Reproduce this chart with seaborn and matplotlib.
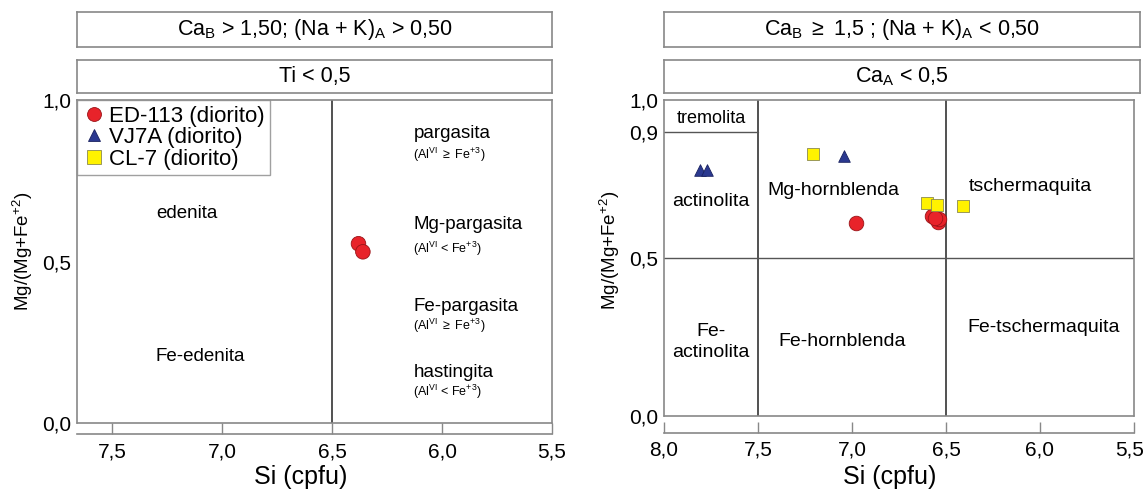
import matplotlib
matplotlib.use("Agg")
import matplotlib.pyplot as plt
import matplotlib.transforms as mtransforms
from matplotlib.lines import Line2D
import seaborn as sns
import pandas as pd

# amostras
amostras = ["ED-113 (diorito)", "VJ7A (diorito)", "CL-7 (diorito)"]
cores = {"ED-113 (diorito)": "#e8232a", "VJ7A (diorito)": "#2b3990", "CL-7 (diorito)": "#fff200"}
bordas = {"ED-113 (diorito)": "#9a1418", "VJ7A (diorito)": "#1a2260", "CL-7 (diorito)": "#8a8a50"}
marcadores = {"ED-113 (diorito)": "o", "VJ7A (diorito)": "^", "CL-7 (diorito)": "s"}

# diagrama 1 - pargasita / edenita
si_1 = [6.38, 6.36]
mg_1 = [0.555, 0.53]
am_1 = ["ED-113 (diorito)", "ED-113 (diorito)"]

# diagrama 2 - tremolita / hornblenda / tschermaquita
si_ed = [6.98, 6.575, 6.545, 6.535, 6.56]
mg_ed = [0.611, 0.633, 0.614, 0.623, 0.627]
si_vj = [7.81, 7.77, 7.045]
mg_vj = [0.778, 0.778, 0.824]
si_cl = [7.21, 6.60, 6.55, 6.41]
mg_cl = [0.830, 0.673, 0.667, 0.664]

ticks_x1 = [7.5, 7.0, 6.5, 6.0, 5.5]
ticks_x2 = [8.0, 7.5, 7.0, 6.5, 6.0, 5.5]
ticks_y1 = [0.0, 0.5, 1.0]
ticks_y2 = [0.0, 0.5, 0.9, 1.0]

limite_si_1 = 6.5
limites_si_2 = [7.5, 6.5]
limite_mg = 0.5
limite_tremolita = 0.9

df1 = pd.DataFrame({"Si": si_1, "Mg": mg_1, "amostra": am_1})
df2 = pd.DataFrame({
    "Si": si_ed + si_vj + si_cl,
    "Mg": mg_ed + mg_vj + mg_cl,
    "amostra": ["ED-113 (diorito)"] * len(si_ed) + ["VJ7A (diorito)"] * len(si_vj) + ["CL-7 (diorito)"] * len(si_cl),
})

sns.set_style("white")
plt.rcParams["font.family"] = ["Liberation Sans", "DejaVu Sans"]
plt.rcParams["mathtext.fontset"] = "custom"
plt.rcParams["mathtext.rm"] = "Liberation Sans"
plt.rcParams["mathtext.it"] = "Liberation Sans"
for k in ["text.color", "axes.labelcolor", "xtick.color", "ytick.color"]:
    plt.rcParams[k] = "black"

W, H = 1148, 490
fig = plt.figure(figsize=(W / 100, H / 100), dpi=100)

def px_axes(x0, y0, x1, y1):
    return fig.add_axes([x0 / W, 1 - y1 / H, (x1 - x0) / W, (y1 - y0) / H])

def caixa(x0, y0, x1, y1, texto):
    a = px_axes(x0, y0, x1, y1)
    a.set_xticks([])
    a.set_yticks([])
    for s in a.spines.values():
        s.set_color("#888888")
        s.set_linewidth(1.2)
    a.text(0.5, 0.5, texto, ha="center", va="center", fontsize=15.5, transform=a.transAxes)

fmt = lambda v: f"{v:.1f}".replace(".", ",")

def estilo(ax, xlim, xt, yt, off, xlab, ylab_y):
    # posicao do eixo primeiro (reseta os ticks)
    ax.spines["bottom"].set_position(("outward", off))
    ax.set_xlim(*xlim)
    ax.set_ylim(0, 1)
    ax.set_xticks(xt)
    ax.set_xticklabels([fmt(v) for v in xt], fontsize=15)
    ax.set_yticks(yt)
    ax.set_yticklabels([fmt(v) for v in yt], fontsize=15)
    for s in ax.spines.values():
        s.set_color("#888888")
        s.set_linewidth(1.2)
    ax.tick_params(axis="x", bottom=True, direction="in", length=8, width=1, color="#888888", pad=6)
    ax.tick_params(axis="y", left=False, length=0, pad=4)
    ax.axhline(0, color="#888888", lw=1.2, clip_on=False)
    ax.set_xlabel("Si (cpfu)", fontsize=18, labelpad=0)
    ax.set_ylabel("Mg/(Mg+Fe$^{+2}$)", fontsize=13.5, labelpad=5)
    ax.xaxis.set_label_coords(*xlab)
    ax.yaxis.label.set_y(ylab_y)

# ---------- esquerda
caixa(77, 12, 552, 47, r"Ca$_{\mathrm{B}}$ > 1,50; (Na + K)$_{\mathrm{A}}$ > 0,50")
caixa(77, 60, 552, 93, "Ti < 0,5")
ax1 = px_axes(77, 100, 552, 423)
ax1.axvline(limite_si_1, color="#333333", lw=1.2)
sns.scatterplot(data=df1, x="Si", y="Mg", hue="amostra", style="amostra", palette=cores,
                markers=marcadores, s=110, edgecolor=bordas["ED-113 (diorito)"], linewidth=0.6,
                legend=False, ax=ax1, zorder=3)
estilo(ax1, (7.66, 5.5), ticks_x1, ticks_y1, 8, (0.47, -0.13), 0.53)

kw = dict(fontsize=13.5, ha="left", va="center")
kw2 = dict(fontsize=9, ha="left", va="center")
ax1.text(6.13, 0.895, "pargasita", **kw)
ax1.text(6.13, 0.83, r"(Al$^{\mathrm{VI}}$ $\geq$ Fe$^{+3}$)", **kw2)
ax1.text(6.13, 0.615, "Mg-pargasita", **kw)
ax1.text(6.13, 0.54, r"(Al$^{\mathrm{VI}}$ < Fe$^{+3}$)", **kw2)
ax1.text(6.13, 0.36, "Fe-pargasita", **kw)
ax1.text(6.13, 0.30, r"(Al$^{\mathrm{VI}}$ $\geq$ Fe$^{+3}$)", **kw2)
ax1.text(6.13, 0.155, "hastingita", **kw)
ax1.text(6.13, 0.095, r"(Al$^{\mathrm{VI}}$ < Fe$^{+3}$)", **kw2)
ax1.text(7.16, 0.65, "edenita", fontsize=13.5, ha="center", va="center")
ax1.text(7.10, 0.205, "Fe-edenita", fontsize=13.5, ha="center", va="center")

handles = [Line2D([], [], marker=marcadores[a], linestyle="", markerfacecolor=cores[a],
                  markeredgecolor=bordas[a], markersize=10 if a != "VJ7A (diorito)" else 9,
                  markeredgewidth=0.6) for a in amostras]
leg = ax1.legend(handles, amostras, loc="upper left", borderaxespad=0, fontsize=16,
                 frameon=True, fancybox=False, handletextpad=0.2, handlelength=1.0,
                 labelspacing=0.03, borderpad=0.25)
leg.get_frame().set_edgecolor("#888888")
leg.get_frame().set_linewidth(1.0)

# ---------- direita
caixa(664, 12, 1140, 47, r"Ca$_{\mathrm{B}}$ $\geq$ 1,5 ; (Na + K)$_{\mathrm{A}}$ < 0,50")
caixa(664, 60, 1140, 93, r"Ca$_{\mathrm{A}}$ < 0,5")
ax2 = px_axes(664, 100, 1134, 416)
for v in limites_si_2:
    ax2.axvline(v, color="#333333", lw=1.2)
ax2.axhline(limite_mg, color="#555555", lw=1.0)
ax2.plot([8.0, limites_si_2[0]], [limite_tremolita, limite_tremolita], color="#555555", lw=1.0)
for a in amostras:
    sub = df2[df2["amostra"] == a]
    sns.scatterplot(data=sub, x="Si", y="Mg", color=cores[a], marker=marcadores[a],
                    s=110 if a == "ED-113 (diorito)" else 70, edgecolor=bordas[a],
                    linewidth=0.6, legend=False, ax=ax2, zorder=3)
estilo(ax2, (8.0, 5.5), ticks_x2, ticks_y2, 12, (0.48, -0.155), 0.525)
# ultimo rotulo encostado na borda
ult = ax2.get_xticklabels()[-1]
ult.set_transform(ult.get_transform() + mtransforms.ScaledTranslation(-4 / 100, 0, fig.dpi_scale_trans))

fs2 = 14
ax2.text(7.75, 0.94, "tremolita", fontsize=13, ha="center", va="center")
ax2.text(7.75, 0.68, "actinolita", fontsize=fs2, ha="center", va="center")
ax2.text(7.75, 0.235, "Fe-\nactinolita", fontsize=fs2, ha="center", va="center", linespacing=1.3)
ax2.text(7.10, 0.715, "Mg-hornblenda", fontsize=fs2, ha="center", va="center")
ax2.text(7.05, 0.235, "Fe-hornblenda", fontsize=fs2, ha="center", va="center")
ax2.text(6.05, 0.725, "tschermaquita", fontsize=fs2, ha="center", va="center")
ax2.text(5.98, 0.28, "Fe-tschermaquita", fontsize=fs2, ha="center", va="center")

fig.savefig("out.png", dpi=100)
